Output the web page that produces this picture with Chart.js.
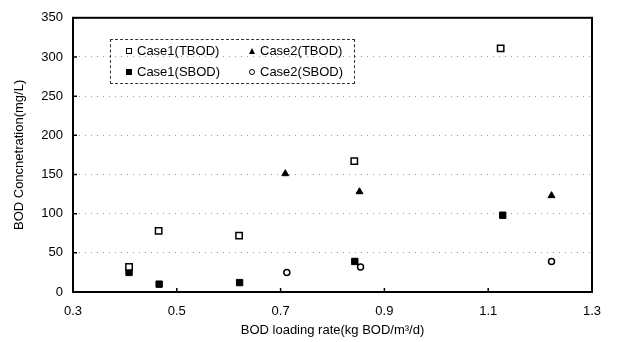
<!DOCTYPE html>
<html>
<head>
<meta charset="utf-8">
<script src="https://cdn.jsdelivr.net/npm/chart.js@4.4.0/dist/chart.umd.min.js"></script>
<style>
  html,body{margin:0;padding:0;background:#fff;}
  #wrap{position:relative;width:618px;height:342px;}
  #legend{position:absolute;left:110px;top:39px;width:243px;height:43px;border:1px dashed #333;
    font-family:"Liberation Sans",Arial,sans-serif;font-size:13px;color:#000;}
  .item{position:absolute;display:flex;align-items:center;white-space:nowrap;}
  .mk{display:inline-block;margin-right:5px;box-sizing:border-box;}
</style>
</head>
<body>
<div id="wrap">
<canvas id="c" width="618" height="342"></canvas>
<div id="legend">
  <div class="item" style="left:15px;top:3px;"><span class="mk" style="width:6px;height:6px;border:1.5px solid #000;"></span>Case1(TBOD)</div>
  <div class="item" style="left:138px;top:3px;"><span class="mk" style="width:0;height:0;border-left:3px solid transparent;border-right:3px solid transparent;border-bottom:6px solid #000;"></span>Case2(TBOD)</div>
  <div class="item" style="left:15px;top:24px;"><span class="mk" style="width:6px;height:6px;background:#000;"></span>Case1(SBOD)</div>
  <div class="item" style="left:138px;top:24px;"><span class="mk" style="width:6px;height:6px;border:1.5px solid #000;border-radius:50%;"></span>Case2(SBOD)</div>
</div>
</div>
<script>
const case1TX = [0.408, 0.465, 0.62, 0.842, 1.124];
const case1TY = [32, 78, 72, 167, 311];
const case1SX = [0.408, 0.466, 0.621, 0.843, 1.128];
const case1SY = [25, 10, 12, 39, 98];
const case2TX = [0.709, 0.852, 1.222];
const case2TY = [151, 128, 123];
const case2SX = [0.712, 0.854, 1.222];
const case2SY = [25, 32, 39];
const xTicks = [0.3, 0.5, 0.7, 0.9, 1.1, 1.3];
const yTicks = [0, 50, 100, 150, 200, 250, 300, 350];

const pts = (xs, ys) => xs.map((x, i) => ({x, y: ys[i]}));
const FONT = {family: '"Liberation Sans", Arial, sans-serif', size: 13};

const frame = {
  id: 'frame',
  afterDatasetsDraw(chart) {
    const {ctx, chartArea: a, scales: {x, y}} = chart;
    ctx.save();
    ctx.strokeStyle = '#000';
    ctx.lineWidth = 1.5;
    ctx.beginPath();
    xTicks.forEach(v => { const px = x.getPixelForValue(v); ctx.moveTo(px, a.bottom); ctx.lineTo(px, a.bottom - 4); });
    yTicks.forEach(v => { const py = y.getPixelForValue(v); ctx.moveTo(a.left, py); ctx.lineTo(a.left + 4, py); });
    ctx.stroke();
    ctx.lineWidth = 2;
    ctx.strokeRect(a.left, a.top, a.right - a.left, a.bottom - a.top);
    ctx.restore();
  }
};

new Chart(document.getElementById('c'), {
  type: 'scatter',
  data: {
    datasets: [
      {label: 'Case1(TBOD)', data: pts(case1TX, case1TY), pointStyle: 'rect', radius: 4.5, borderColor: '#000', backgroundColor: '#fff', borderWidth: 1.5},
      {label: 'Case1(SBOD)', data: pts(case1SX, case1SY), pointStyle: 'rect', radius: 4.5, borderColor: '#000', backgroundColor: '#000', borderWidth: 1},
      {label: 'Case2(TBOD)', data: pts(case2TX, case2TY), pointStyle: 'triangle', radius: 4, borderColor: '#000', backgroundColor: '#000', borderWidth: 1},
      {label: 'Case2(SBOD)', data: pts(case2SX, case2SY), pointStyle: 'circle', radius: 3, borderColor: '#000', backgroundColor: '#fff', borderWidth: 1.5}
    ]
  },
  options: {
    responsive: false,
    animation: false,
    layout: {padding: {left: 0, right: 26, top: 12, bottom: 0}},
    plugins: {legend: {display: false}, tooltip: {enabled: false}},
    scales: {
      x: {
        type: 'linear', min: 0.3, max: 1.3,
        afterFit(s) { s.height = 50; },
        afterBuildTicks(s) { s.ticks = xTicks.map(v => ({value: v})); },
        ticks: {font: FONT, color: '#000', padding: 12, callback: v => v.toFixed(1)},
        grid: {display: false, drawTicks: false},
        border: {display: false},
        title: {display: true, text: 'BOD loading rate(kg BOD/m³/d)', font: FONT, color: '#000', padding: {top: 1}}
      },
      y: {
        min: 0, max: 350,
        afterFit(s) { s.width = 73; },
        afterBuildTicks(s) { s.ticks = yTicks.map(v => ({value: v})); },
        ticks: {font: FONT, color: '#000', padding: 10},
        grid: {color: '#999', drawTicks: false, lineWidth: 1},
        border: {display: false, dash: [1, 5]},
        title: {display: true, text: 'BOD Concnetration(mg/L)', font: FONT, color: '#000', padding: {top: 12, bottom: 0}}
      }
    }
  },
  plugins: [frame]
});
</script>
</body>
</html>
